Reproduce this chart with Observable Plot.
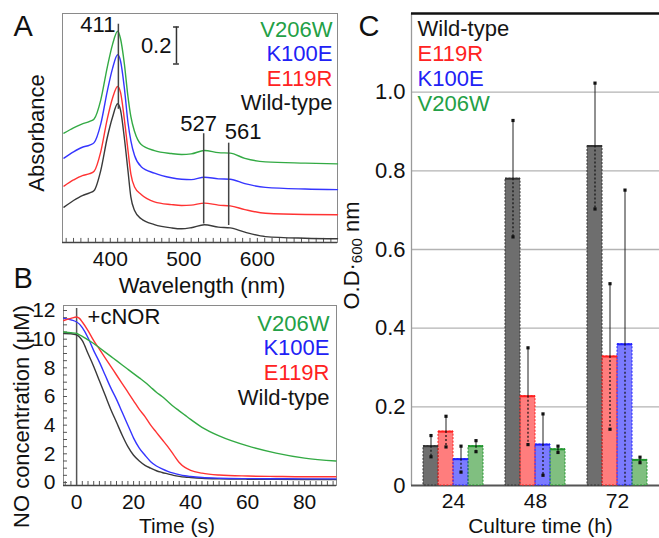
<!DOCTYPE html>
<html><head><meta charset="utf-8">
<script src="https://cdn.jsdelivr.net/npm/d3@7"></script>
<script src="https://cdn.jsdelivr.net/npm/@observablehq/plot@0.6"></script>
<style>
body{margin:0;background:#fff;}
#fig{position:relative;width:659px;height:538px;overflow:hidden;background:#fff;font-family:"Liberation Sans",Arial,sans-serif;}
.panel{position:absolute;}
</style></head><body><div id="fig"></div>
<script>
// ---------- Panel A: absorption spectra ----------
const wavelengths = [337, 350, 362, 372, 378, 387, 396, 403, 410, 414, 419, 424, 428, 433, 442, 460, 483, 497, 510, 528, 547, 563, 583, 611, 665, 709];
const absWildType = [0.191, 0.227, 0.254, 0.268, 0.281, 0.389, 0.569, 0.677, 0.750, 0.714, 0.569, 0.389, 0.245, 0.173, 0.128, 0.097, 0.079, 0.074, 0.080, 0.096, 0.083, 0.079, 0.056, 0.032, 0.023, 0.020];
const absE119R   = [0.305, 0.338, 0.362, 0.372, 0.385, 0.490, 0.670, 0.780, 0.843, 0.810, 0.670, 0.500, 0.370, 0.300, 0.260, 0.220, 0.205, 0.200, 0.202, 0.213, 0.202, 0.198, 0.178, 0.158, 0.151, 0.150];
const absK100E   = [0.456, 0.490, 0.515, 0.527, 0.540, 0.640, 0.820, 0.940, 1.015, 0.980, 0.840, 0.650, 0.550, 0.470, 0.410, 0.375, 0.350, 0.342, 0.340, 0.353, 0.344, 0.342, 0.318, 0.298, 0.289, 0.286];
const absV206W   = [0.591, 0.620, 0.641, 0.655, 0.668, 0.770, 0.950, 1.070, 1.142, 1.100, 0.970, 0.790, 0.680, 0.600, 0.530, 0.497, 0.481, 0.476, 0.479, 0.497, 0.486, 0.483, 0.455, 0.436, 0.429, 0.425];
const peakWavelengths = [411, 527, 561];
const peakLineTop = [1.18, 0.588, 0.537];
const peakLineBottom = [0.72, 0.100, 0.092];
const scaleBarAt = 490, scaleBarBase = 0.965, scaleBarSize = 0.2;

// ---------- Panel B: NO consumption ----------
const timesB = [-4.5, -2, 0, 1, 2, 4, 6, 8, 10, 12, 14, 16, 18, 20, 22, 24, 26, 28, 30, 32, 34, 36, 38, 40, 44, 50, 60, 70, 80, 91];
const noWildType = [10.4, 10.38, 10.3, 10.15, 9.9, 9.0, 8.1, 7.1, 6.1, 5.1, 4.2, 3.3, 2.5, 1.9, 1.5, 1.2, 1.0, 0.82, 0.7, 0.6, 0.5, 0.43, 0.38, 0.35, 0.3, 0.26, 0.23, 0.22, 0.21, 0.2];
const noE119R   = [11.3, 11.45, 11.55, 11.45, 11.2, 10.6, 9.9, 9.3, 8.7, 8.1, 7.5, 6.9, 6.3, 5.7, 5.1, 4.6, 4.0, 3.5, 3.0, 2.5, 1.95, 1.4, 1.05, 0.85, 0.65, 0.52, 0.45, 0.42, 0.4, 0.4];
const noK100E   = [11.45, 11.35, 11.2, 11.05, 10.8, 10.1, 9.2, 8.4, 7.5, 6.6, 5.8, 4.9, 4.0, 3.1, 2.4, 1.9, 1.45, 1.15, 0.95, 0.78, 0.65, 0.55, 0.47, 0.42, 0.35, 0.3, 0.27, 0.26, 0.25, 0.25];
const noV206W   = [10.5, 10.45, 10.4, 10.3, 10.2, 9.95, 9.7, 9.4, 9.1, 8.8, 8.5, 8.2, 7.9, 7.6, 7.3, 7.0, 6.65, 6.3, 6.0, 5.65, 5.3, 5.0, 4.7, 4.4, 3.85, 3.25, 2.55, 2.05, 1.7, 1.5];
const cnorEvent = [{t: 0, label: "+cNOR"}];

// ---------- Panel C: growth ----------
const cultureTimes = ["24", "48", "72"];
const variants = ["Wild-type", "E119R", "K100E", "V206W"];
const odWildType = [0.100, 0.780, 0.863];
const errWildType = [0.027, 0.148, 0.160];
const odE119R = [0.137, 0.227, 0.328];
const errE119R = [0.039, 0.123, 0.185];
const odK100E = [0.067, 0.104, 0.359];
const errK100E = [0.033, 0.078, 0.392];
const odV206W = [0.100, 0.092, 0.065];
const errV206W = [0.014, 0.008, 0.007];
const odTicks = [0, 0.2, 0.4, 0.6, 0.8, 1.0];

// ---------- styles ----------
const FONT = "Liberation Sans, Arial, sans-serif";
const textColor = {"Wild-type": "#151515", "E119R": "#ff2222", "K100E": "#2121f5", "V206W": "#23a046"};
const lineColor = {"Wild-type": "#3a3a3a", "E119R": "#ff3333", "K100E": "#3535ff", "V206W": "#33aa44"};
const barFill = {"Wild-type": "#6e6e6e", "E119R": "#ff7d7d", "K100E": "#7b7bff", "V206W": "#80bf80"};
const barStroke = {"Wild-type": "#333333", "E119R": "#ff2020", "K100E": "#2020ff", "V206W": "#22962f"};
const baseStyle = {background: "transparent", fontFamily: FONT, fontSize: "21px", color: "#111", overflow: "visible"};

const fig = document.getElementById("fig");
function place(node, left, top) {
  const d = document.createElement("div");
  d.className = "panel"; d.style.left = left + "px"; d.style.top = top + "px";
  d.appendChild(node); fig.appendChild(d);
}

// ---------- build A ----------
const seriesA = [["Wild-type", absWildType], ["E119R", absE119R], ["K100E", absK100E], ["V206W", absV206W]];
const rowsA = seriesA.flatMap(([v, vals]) => wavelengths.map((w, i) => ({variant: v, wl: w, abs: vals[i]})));
const peaks = peakWavelengths.map((w, i) => ({wl: w, top: peakLineTop[i], bottom: peakLineBottom[i]}));
const legendA = ["V206W", "K100E", "E119R", "Wild-type"];
const minorA = d3.range(340, 710, 10);

const plotA = Plot.plot({
  width: 340, height: 300, marginLeft: 62, marginRight: 3, marginTop: 13, marginBottom: 58,
  style: baseStyle,
  x: {domain: [335, 709], ticks: [400, 500, 600], tickSize: 0, tickPadding: 9, label: null},
  y: {domain: [0, 1.238], axis: null},
  marks: [
    Plot.frame({stroke: "#8a8a8a"}),
    Plot.ruleY([0], {stroke: "#444", strokeWidth: 1.5}),
    Plot.ruleX(minorA, {y1: 0, y2: 0.022, stroke: "#555"}),
    ...seriesA.map(([v]) => Plot.line(rowsA, {filter: d => d.variant === v, x: "wl", y: "abs", stroke: lineColor[v], strokeWidth: 1.4, curve: "monotone-x"})),
    Plot.ruleX(peaks, {x: "wl", y1: "top", y2: "bottom", stroke: "#444", strokeWidth: 1.5}),
    Plot.text(peaks.slice(0, 1), {x: "wl", y: "top", text: d => String(d.wl), textAnchor: "end", lineAnchor: "bottom", dx: -3, dy: 8, fontSize: 22}),
    Plot.text(peaks.slice(1, 2), {x: "wl", y: "top", text: d => String(d.wl), textAnchor: "middle", lineAnchor: "bottom", dx: -5, dy: -3, fontSize: 22}),
    Plot.text(peaks.slice(2, 3), {x: "wl", y: "top", text: d => String(d.wl), textAnchor: "start", lineAnchor: "bottom", dx: -4, dy: -4, fontSize: 22}),
    Plot.ruleX([scaleBarAt], {y1: scaleBarBase, y2: scaleBarBase + scaleBarSize, stroke: "#333", strokeWidth: 1.5}),
    Plot.ruleY([scaleBarBase, scaleBarBase + scaleBarSize], {x1: scaleBarAt - 4, x2: scaleBarAt + 4, stroke: "#333", strokeWidth: 1.5}),
    Plot.text([String(scaleBarSize)], {x: scaleBarAt, y: scaleBarBase + scaleBarSize / 2, textAnchor: "end", dx: -5, fontSize: 22}),
    ...legendA.map((v, i) => Plot.text([v], {frameAnchor: "top-right", textAnchor: "end", lineAnchor: "bottom", dx: -5, dy: 23 + i * 24.5, fill: textColor[v], fontSize: 22})),
    Plot.text(["A"], {frameAnchor: "top-left", textAnchor: "start", lineAnchor: "bottom", dx: -49, dy: 22, fontSize: 29}),
    Plot.text(["Absorbance"], {frameAnchor: "left", rotate: -90, lineAnchor: "bottom", textAnchor: "middle", dx: -19, dy: 5, fontSize: 22}),
    Plot.text(["Wavelength (nm)"], {frameAnchor: "bottom", lineAnchor: "bottom", textAnchor: "middle", dx: 2, dy: 50, fontSize: 22})
  ]
});
place(plotA, 0, 0);

// ---------- build B ----------
const seriesB = [["Wild-type", noWildType], ["K100E", noK100E], ["E119R", noE119R], ["V206W", noV206W]];
const rowsB = seriesB.flatMap(([v, vals]) => timesB.map((t, i) => ({variant: v, t, c: vals[i]})));
const legendB = ["V206W", "K100E", "E119R", "Wild-type"];
const xDomB = [-4.6, 91.2], yDomB = [-0.21, 12.35];
const plotB = Plot.plot({
  width: 340, height: 288, marginLeft: 63, marginRight: 4, marginTop: 55, marginBottom: 53,
  style: baseStyle,
  x: {domain: xDomB, ticks: [0, 20, 40, 60, 80], tickSize: 0, tickPadding: 9, label: null},
  y: {domain: yDomB, ticks: [0, 2, 4, 6, 8, 10, 12], tickSize: 0, tickPadding: 8, label: null},
  marks: [
    Plot.frame({stroke: "#8a8a8a"}),
    Plot.ruleY([yDomB[0]], {stroke: "#444", strokeWidth: 1.5}),
    Plot.ruleX(d3.range(-4, 92, 2), {y1: yDomB[0], y2: yDomB[0] + 0.28, stroke: "#555"}),
    Plot.ruleY(d3.range(0, 12.5, 0.5), {x1: xDomB[0], x2: xDomB[0] + 1.4, stroke: "#555"}),
    Plot.ruleX(cnorEvent, {x: "t", insetTop: 3, stroke: "#555", strokeWidth: 1.5}),
    Plot.text(cnorEvent, {x: "t", text: "label", frameAnchor: "top", textAnchor: "start", lineAnchor: "bottom", dx: 11, dy: 18, fontSize: 22}),
    ...seriesB.map(([v]) => Plot.line(rowsB, {filter: d => d.variant === v, x: "t", y: "c", stroke: lineColor[v], strokeWidth: 1.4, curve: "monotone-x"})),
    ...legendB.map((v, i) => Plot.text([v], {frameAnchor: "top-right", textAnchor: "end", lineAnchor: "bottom", dx: -7, dy: 25 + i * 24.7, fill: textColor[v], fontSize: 22})),
    Plot.text(["B"], {frameAnchor: "top-left", textAnchor: "start", lineAnchor: "bottom", dx: -50, dy: -18, fontSize: 29}),
    Plot.text(["NO concentration (\u03BCM)"], {frameAnchor: "left", rotate: -90, lineAnchor: "bottom", textAnchor: "middle", dx: -35, dy: 21, fontSize: 22}),
    Plot.text(["Time (s)"], {frameAnchor: "bottom", lineAnchor: "bottom", textAnchor: "middle", dx: -23, dy: 47, fontSize: 21})
  ]
});
place(plotB, 0, 250);

// ---------- build C ----------
const odBy = {"Wild-type": odWildType, "E119R": odE119R, "K100E": odK100E, "V206W": odV206W};
const errBy = {"Wild-type": errWildType, "E119R": errE119R, "K100E": errK100E, "V206W": errV206W};
const barRows = cultureTimes.flatMap((t, i) => variants.map(v => ({time: t, variant: v, od: odBy[v][i], err: errBy[v][i]})));

const plotCBack = Plot.plot({
  width: 319, height: 538, marginLeft: 71, marginRight: 0, marginTop: 13, marginBottom: 53,
  style: {...baseStyle, fontSize: "22px"},
  x: {domain: [0, 1], axis: null},
  y: {domain: [0, 1.2], ticks: odTicks, tickFormat: d => d === 0 ? "0" : d.toFixed(1), tickSize: 0, tickPadding: 6, label: null},
  marks: [
    Plot.ruleY(odTicks.slice(1), {stroke: "#b3b3b3", strokeWidth: 1.3}),
    Plot.ruleX([0], {stroke: "#9a9a9a", strokeWidth: 1.3}),
    Plot.ruleY([1.2], {stroke: "#111", strokeWidth: 2.5}),
    Plot.ruleY([0], {stroke: "#555", strokeWidth: 2}),
    ...variants.map((v, i) => Plot.text([v], {frameAnchor: "top-left", textAnchor: "start", lineAnchor: "bottom", dx: 6, dy: 22 + i * 25, fill: textColor[v], fontSize: 22})),
    Plot.text(["C"], {frameAnchor: "top-left", textAnchor: "start", lineAnchor: "bottom", dx: -53, dy: 22, fontSize: 29}),
    Plot.text(["O.D\u00B7600 nm"], {frameAnchor: "left", rotate: -90, lineAnchor: "bottom", textAnchor: "middle", dx: -53, dy: 6, fontSize: 22}),
    Plot.text(["Culture time (h)"], {frameAnchor: "bottom", lineAnchor: "bottom", textAnchor: "middle", dx: 5, dy: 47, fontSize: 21})
  ]
});
// subscript "600"
plotCBack.querySelectorAll("text").forEach(t => {
  if (t.textContent === "O.D\u00B7600 nm") {
    const ns = "http://www.w3.org/2000/svg";
    t.textContent = "";
    t.appendChild(document.createTextNode("O.D\u00B7"));
    const s = document.createElementNS(ns, "tspan"); s.setAttribute("font-size", "15"); s.setAttribute("dy", "3"); s.textContent = "600"; t.appendChild(s);
    const p = document.createElementNS(ns, "tspan"); p.setAttribute("dy", "-3"); p.textContent = " nm"; t.appendChild(p);
  }
});
place(plotCBack, 340, 0);

const plotCBars = Plot.plot({
  width: 319, height: 538, marginLeft: 71, marginRight: 0, marginTop: 13, marginBottom: 53,
  style: baseStyle,
  facet: {data: barRows, x: "time"},
  fx: {domain: cultureTimes, paddingInner: 0.272, paddingOuter: 0.145, axis: "bottom", tickSize: 0, tickPadding: 8, label: null},
  x: {domain: variants, padding: 0, axis: null},
  y: {domain: [0, 1.2], axis: null},
  color: {domain: variants, range: variants.map(v => barFill[v])},
  marks: [
    Plot.barY(barRows, {x: "variant", y: "od", fill: "variant"}),
    ...variants.map(v => Plot.barY(barRows, {filter: d => d.variant === v, x: "variant", y: "od", fill: "none", stroke: barStroke[v], strokeWidth: 1, strokeDasharray: "2,1.5"})),
    ...variants.map(v => Plot.tickY(barRows, {filter: d => d.variant === v, x: "variant", y: "od", stroke: barStroke[v], strokeWidth: 2})),
    Plot.ruleX(barRows, {x: "variant", y1: "od", y2: d => d.od + d.err, stroke: "#222", strokeWidth: 1}),
    Plot.ruleX(barRows, {x: "variant", y1: "od", y2: d => Math.max(0, d.od - d.err), stroke: "#111", strokeWidth: 1.2, strokeDasharray: "2,2"}),
    Plot.dot(barRows, {x: "variant", y: d => d.od + d.err, r: 1.8, symbol: "square", fill: "#111"}),
    Plot.dot(barRows, {filter: d => d.od - d.err > 0, x: "variant", y: d => d.od - d.err, r: 1.8, symbol: "square", fill: "#111"})
  ]
});
place(plotCBars, 340, 0);
</script></body></html>
